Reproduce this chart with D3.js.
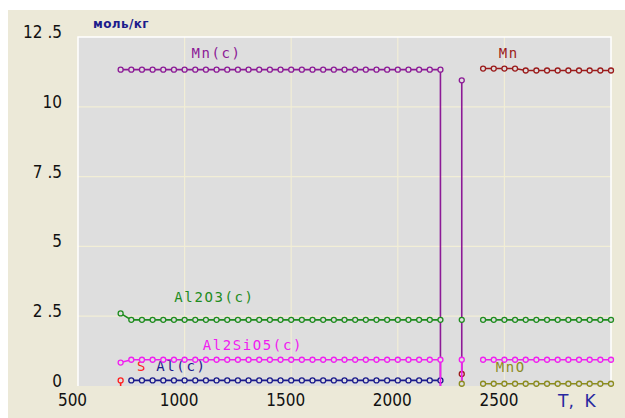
<!DOCTYPE html>
<html>
<head>
<meta charset="utf-8">
<script src="https://cdn.jsdelivr.net/npm/d3@7"></script>
<style>
	body { margin: 0; background: #fff; }
	svg { display: block; }
</style>
</head>
<body>
<svg id="chart" width="625" height="418"></svg>
<script>
// Temperatures, K
const tempsLow = [700, 750, 800, 850, 900, 950, 1000, 1050, 1100, 1150, 1200, 1250, 1300, 1350, 1400, 1450, 1500, 1550, 1600, 1650, 1700, 1750, 1800, 1850, 1900, 1950, 2000, 2050, 2100, 2150, 2200];
const tempsHigh = [2400, 2450, 2500, 2550, 2600, 2650, 2700, 2750, 2800, 2850, 2900, 2950, 3000];

// moles per kg, one value per temperature (null = no phase)
const mnC = [11.33, 11.33, 11.33, 11.33, 11.33, 11.33, 11.33, 11.33, 11.33, 11.33, 11.33, 11.33, 11.33, 11.33, 11.33, 11.33, 11.33, 11.33, 11.33, 11.33, 11.33, 11.33, 11.33, 11.33, 11.33, 11.33, 11.33, 11.33, 11.33, 11.33, 11.33];
const al2o3Low = [2.6, 2.37, 2.37, 2.37, 2.37, 2.37, 2.37, 2.37, 2.37, 2.37, 2.37, 2.37, 2.37, 2.37, 2.37, 2.37, 2.37, 2.37, 2.37, 2.37, 2.37, 2.37, 2.37, 2.37, 2.37, 2.37, 2.37, 2.37, 2.37, 2.37, 2.37];
const al2sio5Low = [0.84, 0.94, 0.94, 0.94, 0.94, 0.94, 0.94, 0.94, 0.94, 0.94, 0.94, 0.94, 0.94, 0.94, 0.94, 0.94, 0.94, 0.94, 0.94, 0.94, 0.94, 0.94, 0.94, 0.94, 0.94, 0.94, 0.94, 0.94, 0.94, 0.94, 0.94];
const alC = [null, 0.2, 0.2, 0.2, 0.2, 0.2, 0.2, 0.2, 0.2, 0.2, 0.2, 0.2, 0.2, 0.2, 0.2, 0.2, 0.2, 0.2, 0.2, 0.2, 0.2, 0.2, 0.2, 0.2, 0.2, 0.2, 0.2, 0.2, 0.2, 0.2, 0.2];
const mnHigh = [11.37, 11.37, 11.37, 11.37, 11.3, 11.3, 11.3, 11.3, 11.3, 11.3, 11.3, 11.3, 11.3];
const al2o3High = [2.37, 2.37, 2.37, 2.37, 2.37, 2.37, 2.37, 2.37, 2.37, 2.37, 2.37, 2.37, 2.37];
const al2sio5High = [0.94, 0.94, 0.94, 0.94, 0.94, 0.94, 0.94, 0.94, 0.94, 0.94, 0.94, 0.94, 0.94];
const mnoHigh = [0.08, 0.08, 0.08, 0.08, 0.08, 0.08, 0.08, 0.08, 0.08, 0.08, 0.08, 0.08, 0.08];

// the single point at 2300 K
const t2300 = 2300;
const at2300 = { mnC: 10.95, mn: 0.43, al2o3: 2.37, al2sio5: 0.94, mno: 0.08 };
const sAt700 = 0.2;

const xTicks = [500, 1000, 1500, 2000, 2500];
const yTicks = [0, 2.5, 5, 7.5, 10, 12.5];
const yTickLabels = ["0", "2 .5", "5", "7 .5", "10", "12 .5"];

const zip = (ts, vs) => ts.map((t, i) => ({ t, v: vs[i] }));

// each series: list of segments, a segment is a list of points
const series = [
	{ name: "S", color: "#ff2020", label: [800, 0.55],
		segments: [[{ t: 700, v: sAt700 }, { t: 700, v: 0, drop: true }]] },
	{ name: "Mn(c)", color: "#8c1a96", label: [1150, 11.75],
		segments: [
			zip(tempsLow, mnC).concat([{ t: 2200, v: 0, drop: true }]),
			[{ t: t2300, v: at2300.mnC }, { t: t2300, v: 0, drop: true }]
		] },
	{ name: "Mn", color: "#9b1b1b", label: [2520, 11.75],
		segments: [[{ t: t2300, v: at2300.mn }], zip(tempsHigh, mnHigh)] },
	{ name: "Al(c)", color: "#1a1a8c", label: [985, 0.55],
		segments: [zip(tempsLow, alC).filter((d) => d.v !== null)] },
	{ name: "Al2O3(c)", color: "#1e8c1e", label: [1140, 3.0],
		segments: [zip(tempsLow, al2o3Low), [{ t: t2300, v: at2300.al2o3 }], zip(tempsHigh, al2o3High)] },
	{ name: "Al2SiO5(c)", color: "#f020f0", label: [1320, 1.3],
		segments: [
			zip(tempsLow, al2sio5Low).concat([{ t: 2200, v: 0, drop: true }]),
			[{ t: t2300, v: at2300.al2sio5 }, { t: t2300, v: 0, drop: true }],
			zip(tempsHigh, al2sio5High)
		] },
	{ name: "MnO", color: "#8c8c1e", label: [2530, 0.5],
		segments: [[{ t: t2300, v: at2300.mno }], zip(tempsHigh, mnoHigh)] }
];

const svg = d3.select("#chart");
const plot = { left: 78, top: 37, right: 611, bottom: 386 };

const xScale = d3.scaleLinear().domain([500, 3000]).range([plot.left, plot.right]);
const yScale = d3.scaleLinear().domain([0, 12.5]).range([plot.bottom, plot.top]);

// Backgrounds
svg.append("rect").attr("x", 8).attr("y", 10).attr("width", 617).attr("height", 408).attr("fill", "#ece9d8");
svg.append("rect")
	.attr("x", plot.left).attr("y", plot.top)
	.attr("width", plot.right - plot.left).attr("height", plot.bottom - plot.top)
	.attr("fill", "#dedede");

// Grid
svg.append("g")
	.selectAll("line")
	.data(xTicks.slice(1))
	.enter()
	.append("line")
	.attr("x1", (d) => xScale(d)).attr("x2", (d) => xScale(d))
	.attr("y1", plot.top).attr("y2", plot.bottom)
	.attr("stroke", "#f2eed6").attr("stroke-width", 1.2);
svg.append("g")
	.selectAll("line")
	.data(yTicks.slice(1, -1))
	.enter()
	.append("line")
	.attr("x1", plot.left).attr("x2", plot.right)
	.attr("y1", (d) => yScale(d)).attr("y2", (d) => yScale(d))
	.attr("stroke", "#f2eed6").attr("stroke-width", 1.2);

// white frame on top, left, right
svg.append("path")
	.attr("d", `M${plot.left},${plot.bottom}V${plot.top}H${plot.right}V${plot.bottom}`)
	.attr("fill", "none").attr("stroke", "#fff").attr("stroke-width", 1.5);

// Axes (labels only)
const tickFont = "'DejaVu Sans Condensed', 'DejaVu Sans', sans-serif";
const xAxis = svg.append("g")
	.attr("transform", `translate(-6, ${plot.bottom})`)
	.call(d3.axisBottom(xScale).tickValues(xTicks).tickSize(0).tickPadding(8).tickFormat(d3.format("d")));
xAxis.select(".domain").remove();
xAxis.selectAll("text")
	.attr("dy", "0.71em")
	.style("font-family", tickFont)
	.style("font-size", "17px")
	.attr("fill", "#111");

const yAxis = svg.append("g")
	.attr("transform", `translate(62, -5)`)
	.call(d3.axisLeft(yScale).tickValues(yTicks).tickSize(0).tickPadding(0)
		.tickFormat((d, i) => yTickLabels[i]));
yAxis.select(".domain").remove();
yAxis.selectAll("text")
	.style("font-family", tickFont)
	.style("font-size", "17px")
	.attr("fill", "#111");

svg.append("text")
	.attr("x", 93).attr("y", 28)
	.style("font-family", "'DejaVu Sans', sans-serif")
	.style("font-size", "12px").style("font-weight", "bold")
	.attr("letter-spacing", "0.4")
	.attr("fill", "#1c1c8c")
	.text("моль/кг");

svg.append("text")
	.attr("x", 558).attr("y", 407)
	.style("font-family", "'DejaVu Sans', sans-serif")
	.style("font-size", "17px")
	.attr("fill", "#2828a0")
	.attr("xml:space", "preserve")
	.text("T,  K");

// Series labels
svg.append("g")
	.selectAll("text")
	.data(series)
	.enter()
	.append("text")
	.attr("x", (d) => xScale(d.label[0]))
	.attr("y", (d) => yScale(d.label[1]))
	.attr("text-anchor", "middle")
	.style("font-family", "'DejaVu Sans Mono', monospace")
	.style("font-size", "14px")
	.attr("letter-spacing", "1.6")
	.attr("fill", (d) => d.color)
	.text((d) => d.name);

// Lines and markers
const line = d3.line().x((d) => xScale(d.t)).y((d) => yScale(d.v));

series.forEach((s) => {
	const g = svg.append("g");
	g.selectAll("path")
		.data(s.segments.filter((seg) => seg.length > 1))
		.enter()
		.append("path")
		.attr("d", line)
		.attr("fill", "none")
		.attr("stroke", s.color)
		.attr("stroke-width", 1.6);
	g.selectAll("circle")
		.data(s.segments.flat().filter((d) => !d.drop))
		.enter()
		.append("circle")
		.attr("cx", (d) => xScale(d.t))
		.attr("cy", (d) => yScale(d.v))
		.attr("r", 2.5)
		.attr("fill", "#dedede")
		.attr("stroke", s.color)
		.attr("stroke-width", 1.3);
});
</script>
</body>
</html>
